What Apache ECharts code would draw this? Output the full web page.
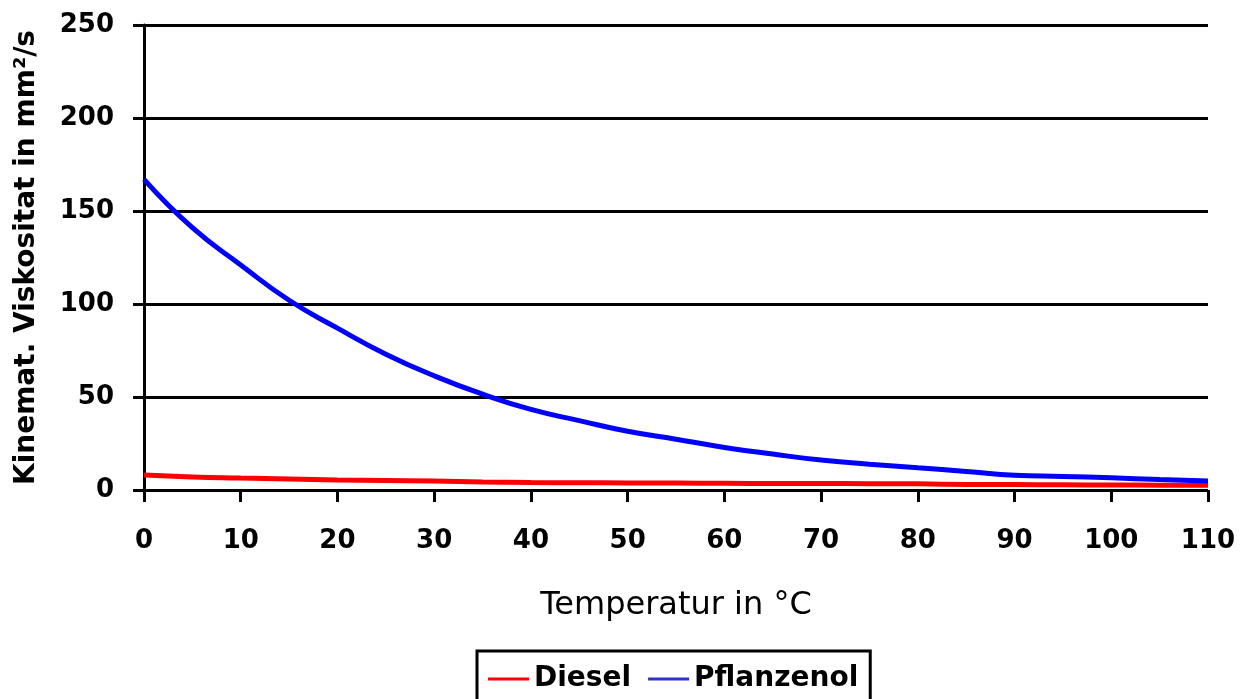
<!DOCTYPE html>
<html>
<head>
<meta charset="utf-8">
<title>Viskosität</title>
<script src="https://cdn.jsdelivr.net/npm/echarts@6/dist/echarts.min.js"></script>
<style>
  html, body { margin: 0; padding: 0; background: #fff; }
  #chart { width: 1250px; height: 699px; }
</style>
</head>
<body>
<div id="chart"></div>
<script>
// Temperatur in °C
const temps = [0, 5, 10, 15, 20, 25, 30, 35, 40, 45, 50, 55, 60, 65, 70, 75, 80, 85, 90, 95, 100, 105, 110]
// kinemat. Viskosität in mm²/s
const diesel = [8, 7, 6.4, 5.9, 5.4, 5.1, 4.9, 4.3, 4.0, 3.9, 3.8, 3.7, 3.6, 3.5, 3.5, 3.4, 3.3, 3.0, 2.9, 2.8, 2.7, 2.6, 2.5]
const pflanzenoel = [167, 141, 121, 102, 87, 73, 61.4, 51.5, 43.3, 37.3, 31.6, 27.3, 22.9, 19.3, 16.1, 13.9, 11.9, 10, 7.9, 7.3, 6.6, 5.6, 4.8]
const seriesNames = ['Diesel', 'Pflanzenol']

const toPairs = (ys) => temps.map((t, i) => [t, ys[i]])

const chart = echarts.init(document.getElementById('chart'))
const font = 'DejaVu Sans'

chart.setOption({
  backgroundColor: '#fff',
  animation: false,
  grid: {
    left: 144,
    right: 42,
    top: 25,
    bottom: 209,
    outerBoundsMode: 'none'
  },
  legend: {
    left: 477,
    top: 651,
    padding: [14, 12, 14, 11],
    borderColor: '#000',
    borderWidth: 3,
    itemGap: 17,
    itemWidth: 41,
    itemHeight: 3,
    icon: 'rect',
    textStyle: { fontFamily: font, fontSize: 28, fontWeight: 'bold', color: '#000' },
    data: [
      { name: seriesNames[0], itemStyle: { color: '#ff0000' } },
      { name: seriesNames[1], itemStyle: { color: '#3030d0' } }
    ]
  },
  xAxis: {
    type: 'value',
    min: 0,
    max: 110,
    interval: 10,
    name: 'Temperatur in °C',
    nameLocation: 'middle',
    nameGap: 100,
    nameTextStyle: { fontFamily: font, fontSize: 32, color: '#000' },
    axisLine: { show: false },
    axisTick: { show: true, length: 12, lineStyle: { color: '#000', width: 3 } },
    axisLabel: { margin: 38, fontFamily: font, fontSize: 26, fontWeight: 'bold', color: '#000' },
    splitLine: { show: false }
  },
  yAxis: {
    type: 'value',
    min: 0,
    max: 250,
    interval: 50,
    name: 'Kinemat. Viskositat in mm²/s',
    nameLocation: 'middle',
    nameGap: 103,
    nameTextStyle: { fontFamily: font, fontSize: 28, fontWeight: 'bold', color: '#000' },
    axisLine: { show: true, lineStyle: { color: '#000', width: 3 } },
    axisTick: { show: true, length: 11, lineStyle: { color: '#000', width: 3 } },
    axisLabel: { margin: 30, fontFamily: font, fontSize: 26, fontWeight: 'bold', color: '#000' },
    splitLine: { show: true, lineStyle: { color: '#000', width: 3 } }
  },
  series: [
    {
      name: seriesNames[0],
      type: 'line',
      data: toPairs(diesel),
      showSymbol: false,
      smooth: true,
      lineStyle: { color: '#ff0000', width: 5 },
      itemStyle: { color: '#ff0000' },
      z: 3
    },
    {
      name: seriesNames[1],
      type: 'line',
      data: toPairs(pflanzenoel),
      showSymbol: false,
      smooth: true,
      lineStyle: { color: '#0000ff', width: 5 },
      itemStyle: { color: '#0000ff' },
      z: 4
    }
  ]
})
</script>
</body>
</html>
